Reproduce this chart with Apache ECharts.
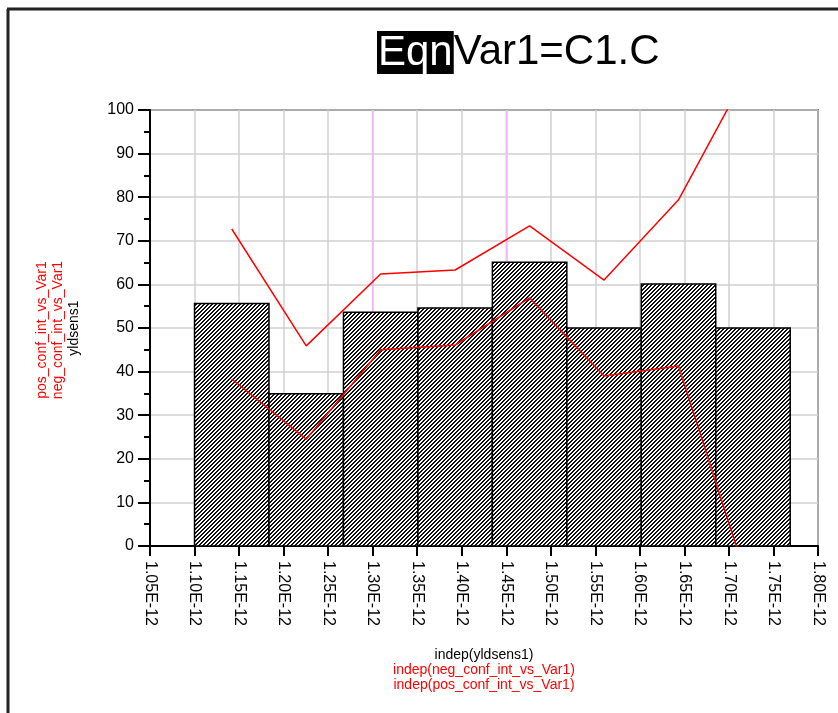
<!DOCTYPE html>
<html>
<head>
<meta charset="utf-8">
<script src="https://cdn.jsdelivr.net/npm/echarts@6/dist/echarts.min.js"></script>
<style>
  html, body { margin: 0; padding: 0; background: #fff; }
  #chart { width: 838px; height: 713px; }
</style>
</head>
<body>
<div id="chart"></div>
<script>
  // x values are in units of 1E-14 (so 110 = 1.10E-12)
  var binEdges = [110, 118.36, 126.72, 135.08, 143.44, 151.8, 160.16, 168.52, 176.88];
  var yldsens1 = [55.6, 34.9, 53.6, 54.6, 65.1, 50, 60.1, 50];
  var posConf = [72.7, 45.9, 62.4, 63.3, 73.4, 61.0, 79.4, 111];
  var negConf = [38.3, 24.5, 45.0, 46.1, 56.9, 39.0, 41.3, -12];
  var pinkLines = [130, 145];

  var font = 'Liberation Sans, Arial, sans-serif';

  // hatch fill like the original plot
  function makeHatch () {
    var c = document.createElement('canvas');
    c.width = 4;
    c.height = 4;
    var ctx = c.getContext('2d');
    ctx.fillStyle = '#fff';
    ctx.fillRect(0, 0, 4, 4);
    ctx.fillStyle = '#111';
    for (var i = 0; i < 4; i++) {
      ctx.fillRect(i, 3 - i, 1, 1);
      ctx.fillRect((i + 1) % 4, 3 - i, 1, 1);
    }
    return c;
  }
  var hatch = { image: makeHatch(), repeat: 'repeat' };

  var centers = [];
  var bars = [];
  for (var i = 0; i < yldsens1.length; i++) {
    centers.push((binEdges[i] + binEdges[i + 1]) / 2);
    bars.push([binEdges[i], binEdges[i + 1], yldsens1[i]]);
  }
  var posData = centers.map(function (c, i) { return [c, posConf[i]]; });
  var negData = centers.map(function (c, i) { return [c, negConf[i]]; });

  var myChart = echarts.init(document.getElementById('chart'));
  myChart.setOption({
    animation: false,
    textStyle: { fontFamily: font },
    title: {
      left: 372,
      top: 26,
      text: '{a|Eqn}{b|Var1=C1.C}',
      textStyle: {
        fontWeight: 'normal',
        rich: {
          a: { fontSize: 42, fontFamily: font, fontWeight: 'normal', color: '#fff', backgroundColor: '#000', padding: [1, 1, 0, 1], lineHeight: 43 },
          b: { fontSize: 42, fontFamily: font, fontWeight: 'normal', color: '#000', lineHeight: 43 }
        }
      }
    },
    grid: {
      left: 150,
      right: 20,
      top: 110,
      bottom: 167,
      show: true,
      borderColor: '#000',
      borderWidth: 1.5
    },
    xAxis: {
      type: 'value',
      min: 105,
      max: 180,
      interval: 5,
      axisLine: { onZero: false, lineStyle: { color: '#000', width: 2 } },
      axisTick: { length: 10, lineStyle: { color: '#000', width: 2 } },
      axisLabel: {
        rotate: -90,
        margin: 15,
        color: '#000',
        fontSize: 16,
        fontFamily: font,
        formatter: function (v) { return (v / 100).toFixed(2) + 'E-12'; }
      },
      splitLine: { show: true, lineStyle: { color: '#d0d0d0', width: 1.5 } }
    },
    yAxis: {
      type: 'value',
      min: 0,
      max: 100,
      interval: 10,
      axisLine: { show: true, lineStyle: { color: '#000', width: 2 } },
      axisTick: { show: true, length: 12, lineStyle: { color: '#000', width: 2 } },
      minorTick: { show: true, splitNumber: 2, length: 6, lineStyle: { color: '#000', width: 2 } },
      axisLabel: { color: '#000', fontSize: 16, fontFamily: font, margin: 16 },
      splitLine: { show: true, lineStyle: { color: '#d0d0d0', width: 1.5 } }
    },
    series: [{
      type: 'custom',
      z: 1,
      data: pinkLines,
      encode: { x: 0 },
      silent: true,
      renderItem: function (params, api) {
        var top = api.coord([api.value(0), 100]);
        var bottom = api.coord([api.value(0), 0]);
        return {
          type: 'line',
          shape: { x1: top[0], y1: top[1], x2: bottom[0], y2: bottom[1] },
          style: { stroke: '#f2b8f2', lineWidth: 1.5 }
        };
      }
    }, {
      type: 'custom',
      z: 2,
      data: bars,
      encode: { x: [0, 1], y: 2 },
      renderItem: function (params, api) {
        var p0 = api.coord([api.value(0), 0]);
        var p1 = api.coord([api.value(1), api.value(2)]);
        return {
          type: 'rect',
          shape: { x: p0[0], y: p1[1], width: p1[0] - p0[0], height: p0[1] - p1[1] },
          style: { fill: hatch, stroke: '#000', lineWidth: 1.5 }
        };
      }
    }, {
      name: 'pos_conf_int_vs_Var1',
      type: 'line',
      z: 3,
      data: posData,
      symbol: 'none',
      clip: true,
      lineStyle: { color: '#ff0000', width: 1.5 }
    }, {
      name: 'neg_conf_int_vs_Var1',
      type: 'line',
      z: 3,
      data: negData,
      symbol: 'none',
      clip: true,
      lineStyle: { color: '#ff0000', width: 1.5 }
    }],
    graphic: [
      { type: 'line', shape: { x1: 7, y1: 9, x2: 838, y2: 9 }, style: { stroke: '#222', lineWidth: 3 } },
      { type: 'line', shape: { x1: 8, y1: 9, x2: 8, y2: 713 }, style: { stroke: '#222', lineWidth: 3 } },
      { type: 'text', x: 42, y: 330, rotation: Math.PI / 2,
        style: { text: 'pos_conf_int_vs_Var1', fill: '#ff0000', font: '14px ' + font, textAlign: 'center', textVerticalAlign: 'middle' } },
      { type: 'text', x: 58, y: 330, rotation: Math.PI / 2,
        style: { text: 'neg_conf_int_vs_Var1', fill: '#ff0000', font: '14px ' + font, textAlign: 'center', textVerticalAlign: 'middle' } },
      { type: 'text', x: 74, y: 328, rotation: Math.PI / 2,
        style: { text: 'yldsens1', fill: '#000', font: '14px ' + font, textAlign: 'center', textVerticalAlign: 'middle' } },
      { type: 'text', x: 484, y: 655,
        style: { text: 'indep(yldsens1)', fill: '#000', font: '14px ' + font, textAlign: 'center', textVerticalAlign: 'middle' } },
      { type: 'text', x: 484, y: 670,
        style: { text: 'indep(neg_conf_int_vs_Var1)', fill: '#ff0000', font: '14px ' + font, textAlign: 'center', textVerticalAlign: 'middle' } },
      { type: 'text', x: 484, y: 685,
        style: { text: 'indep(pos_conf_int_vs_Var1)', fill: '#ff0000', font: '14px ' + font, textAlign: 'center', textVerticalAlign: 'middle' } }
    ]
  });
</script>
</body>
</html>
